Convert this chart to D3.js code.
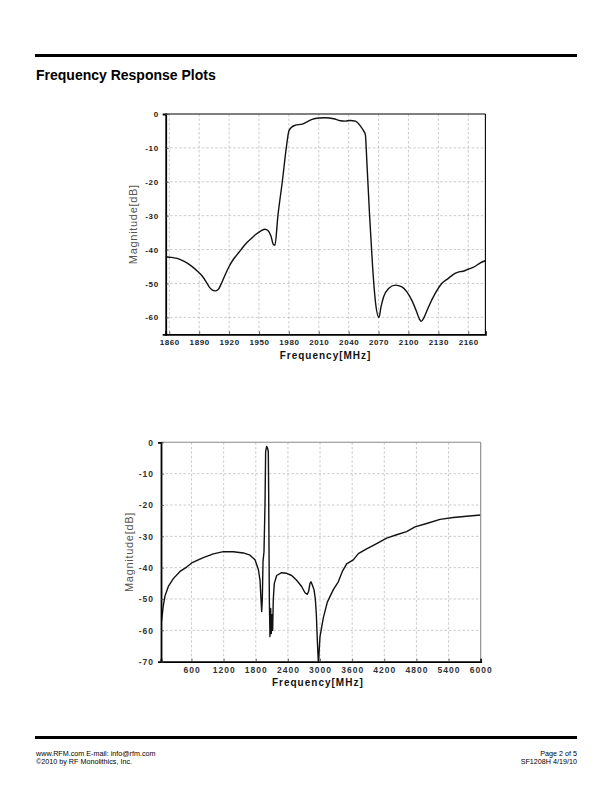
<!DOCTYPE html>
<html>
<head>
<meta charset="utf-8">
<script src="https://cdn.jsdelivr.net/npm/d3@7"></script>
<style>
  html, body { margin: 0; padding: 0; background: #fff; }
  svg { display: block; }
  text { font-family: "Liberation Sans", Arial, sans-serif; }
</style>
</head>
<body>
<svg id="page" width="612" height="792"></svg>
<script>
// ---------- DATA ----------
const freq1 = [1857,1862,1868,1875,1882,1888,1893,1897,1900,1903,1906,1909,1912,1916,1920,1924,1928,1932,1937,1942,1947,1952,1956,1959,1962,1964.5,1966,1969,1973.4,1977.4,1980,1982.4,1986.7,1993.4,1998.4,2003.4,2010,2016.7,2025,2031.7,2036.7,2041.7,2046.7,2051.7,2055,2056.7,2058.4,2061,2064,2066.7,2070.4,2072.4,2075,2080,2086.7,2093.4,2098.4,2103.4,2107.7,2111,2112.7,2115.7,2120,2126.7,2133.4,2140,2146.7,2151.7,2155,2160,2166.7,2171.7,2177];
const mag1  = [-42.1,-42.3,-42.6,-43.5,-44.8,-46.3,-47.8,-49.5,-51.0,-51.9,-52.2,-51.8,-50.2,-47.5,-45,-43,-41.5,-40,-38.2,-36.8,-35.5,-34.5,-34.0,-34.4,-36.0,-38.5,-38.7,-30,-20,-10,-5,-4,-3.3,-3,-2.3,-1.6,-1.2,-1.1,-1.4,-2.0,-2.1,-1.9,-2.1,-3.5,-5,-6,-15,-30,-45,-55,-60,-57,-54,-51.5,-50.5,-51,-52.5,-55,-58,-60.5,-61.2,-60,-57,-53,-50,-48.5,-47,-46.5,-46.4,-45.8,-45,-44,-43.3];

const freq2 = [40,74,105,167,260,385,509,603,820,1007,1194,1381,1567,1692,1785,1847,1879,1897,1910,1922,1935,1953,1972,1984,2003,2022,2034,2040,2053,2065,2078,2090,2103,2115,2127,2146,2190,2283,2376,2470,2563,2656,2719,2762,2787,2812,2831,2856,2887,2912,2931,2949,2962,2972,2985,2999,3061,3136,3248,3341,3422,3497,3621,3715,3870,4057,4244,4430,4617,4773,4991,5240,5488,5737,6000];
const mag2  = [-57,-52,-49,-46,-43.5,-41.2,-39.8,-38.5,-36.8,-35.6,-34.9,-34.9,-35.3,-36.0,-37.5,-40.5,-44,-50,-54,-50,-38,-35,-20,-3,-1.3,-2,-3,-15,-50,-62,-53,-61,-55,-60,-50,-45,-42.5,-41.6,-41.8,-42.5,-44,-46,-48,-48.5,-47.5,-45,-44.5,-45.5,-47,-50,-55,-63,-68,-71,-66,-62,-56,-51,-47,-44.5,-41,-38.8,-37.5,-35.5,-34,-32.3,-30.6,-29.5,-28.5,-27,-25.9,-24.6,-24,-23.6,-23.2];

const xTicks1 = [1860,1890,1920,1950,1980,2010,2040,2070,2100,2130,2160];
const yTicks1 = [0,-10,-20,-30,-40,-50,-60];
const xTicks2 = [600,1200,1800,2400,3000,3600,4200,4800,5400,6000];
const yTicks2 = [0,-10,-20,-30,-40,-50,-60,-70];

const xLabel = "Frequency[MHz]";
const yLabel = "Magnitude[dB]";

// ---------- PAGE ----------
const svg = d3.select("#page");

svg.append("rect").attr("x", 35).attr("y", 54).attr("width", 542).attr("height", 3).attr("fill", "#000");
svg.append("text").attr("x", 36).attr("y", 80)
  .attr("font-size", 14).attr("font-weight", "bold").attr("fill", "#000")
  .text("Frequency Response Plots");

svg.append("rect").attr("x", 35).attr("y", 736).attr("width", 542).attr("height", 3).attr("fill", "#000");
const foot = svg.append("g").attr("font-size", 7.2).attr("fill", "#000");
foot.append("text").attr("x", 36).attr("y", 755.5).text("www.RFM.com  E-mail: info@rfm.com");
foot.append("text").attr("x", 36).attr("y", 763.5).text("\u00A92010 by RF Monolithics, Inc.");
foot.append("text").attr("x", 577).attr("y", 755.5).attr("text-anchor", "end").text("Page 2 of 5");
foot.append("text").attr("x", 577).attr("y", 763.5).attr("text-anchor", "end").text("SF1208H  4/19/10");

// ---------- CHART BUILDER ----------
function drawChart(opt) {
  const { left, top, width, height, xDomain, yDomain, xTicks, yTicks, freq, mag, curve, id, frameColor } = opt;
  const g = svg.append("g").attr("transform", `translate(${left},${top})`);
  const x = d3.scaleLinear().domain(xDomain).range([0, width]);
  const y = d3.scaleLinear().domain(yDomain).range([height, 0]);

  // grid
  g.append("g").selectAll("line").data(xTicks.filter(t => x(t) > 1 && x(t) < width - 1)).join("line")
    .attr("x1", d => x(d)).attr("x2", d => x(d)).attr("y1", 0).attr("y2", height)
    .attr("stroke", "#b4b4b4").attr("stroke-width", 0.7).attr("stroke-dasharray", "2.5,2");
  g.append("g").selectAll("line").data(yTicks.filter(t => y(t) > 1 && y(t) < height - 1)).join("line")
    .attr("x1", 0).attr("x2", width).attr("y1", d => y(d)).attr("y2", d => y(d))
    .attr("stroke", "#b4b4b4").attr("stroke-width", 0.7).attr("stroke-dasharray", "2.5,2");

  // curve
  g.append("clipPath").attr("id", id).append("rect").attr("width", width).attr("height", height);
  const line = d3.line().x((d, i) => x(freq[i])).y(d => y(d)).curve(curve);
  g.append("path").datum(mag).attr("d", line).attr("clip-path", `url(#${id})`)
    .attr("fill", "none").attr("stroke", "#111").attr("stroke-width", 1.4).attr("stroke-linejoin", "round");

  // frame
  g.append("line").attr("x1", 0).attr("x2", width).attr("y1", 0).attr("y2", 0)
    .attr("stroke", frameColor).attr("stroke-width", 1.1);
  g.append("line").attr("x1", width).attr("x2", width).attr("y1", 0).attr("y2", height)
    .attr("stroke", frameColor).attr("stroke-width", 1.1);

  // axes (d3 axes, inner ticks)
  const xAxis = d3.axisBottom(x).tickValues(xTicks).tickSize(-3).tickPadding(5.5).tickFormat(d => String(d));
  const yAxis = d3.axisLeft(y).tickValues(yTicks).tickSize(3).tickPadding(4).tickFormat(d => String(d));
  const gx = g.append("g").attr("transform", `translate(0,${height})`).call(xAxis);
  const gy = g.append("g").call(yAxis);
  [gx, gy].forEach(a => {
    a.select(".domain").attr("stroke", "#000").attr("stroke-width", 1.8);
    a.selectAll(".tick line").attr("stroke", "#444").attr("stroke-width", 0.8);
    a.selectAll(".tick text").attr("font-family", "'Liberation Sans', Arial, sans-serif")
      .attr("font-size", opt.tickSize).attr("font-weight", opt.tickWeight).attr("fill", opt.tickColor)
      .attr("letter-spacing", opt.tickSpacing);
  });
  gy.selectAll(".tick line").attr("x2", 3);

  // labels
  g.append("text").attr("x", width / 2 + opt.xLabelDx).attr("y", height + opt.xLabelDy)
    .attr("text-anchor", "middle").attr("font-size", 10).attr("font-weight", "bold")
    .attr("letter-spacing", 1).attr("fill", "#111").text(xLabel);
  g.append("text").attr("transform", `translate(${opt.yLabelX},${height / 2}) rotate(-90)`)
    .attr("text-anchor", "middle").attr("font-size", 11).attr("letter-spacing", 0.7)
    .attr("fill", "#555").text(yLabel);
}

drawChart({
  id: "clip1", left: 165.7, top: 114, width: 319.7, height: 220.3,
  xDomain: [1856.4, 2177.2], yDomain: [-65, 0],
  xTicks: xTicks1, yTicks: yTicks1, freq: freq1, mag: mag1,
  curve: d3.curveMonotoneX, frameColor: "#000",
  tickSize: 8, tickWeight: "bold", tickColor: "#222", tickSpacing: 0.6,
  xLabelDx: 0, xLabelDy: 24.5, yLabelX: -29
});

drawChart({
  id: "clip2", left: 161, top: 442.3, width: 319.7, height: 219.4,
  xDomain: [30, 6000], yDomain: [-70, 0],
  xTicks: xTicks2, yTicks: yTicks2, freq: freq2, mag: mag2,
  curve: d3.curveLinear, frameColor: "#888",
  tickSize: 8.5, tickWeight: "bold", tickColor: "#333", tickSpacing: 1,
  xLabelDx: -3, xLabelDy: 24.5, yLabelX: -28
});
</script>
</body>
</html>
